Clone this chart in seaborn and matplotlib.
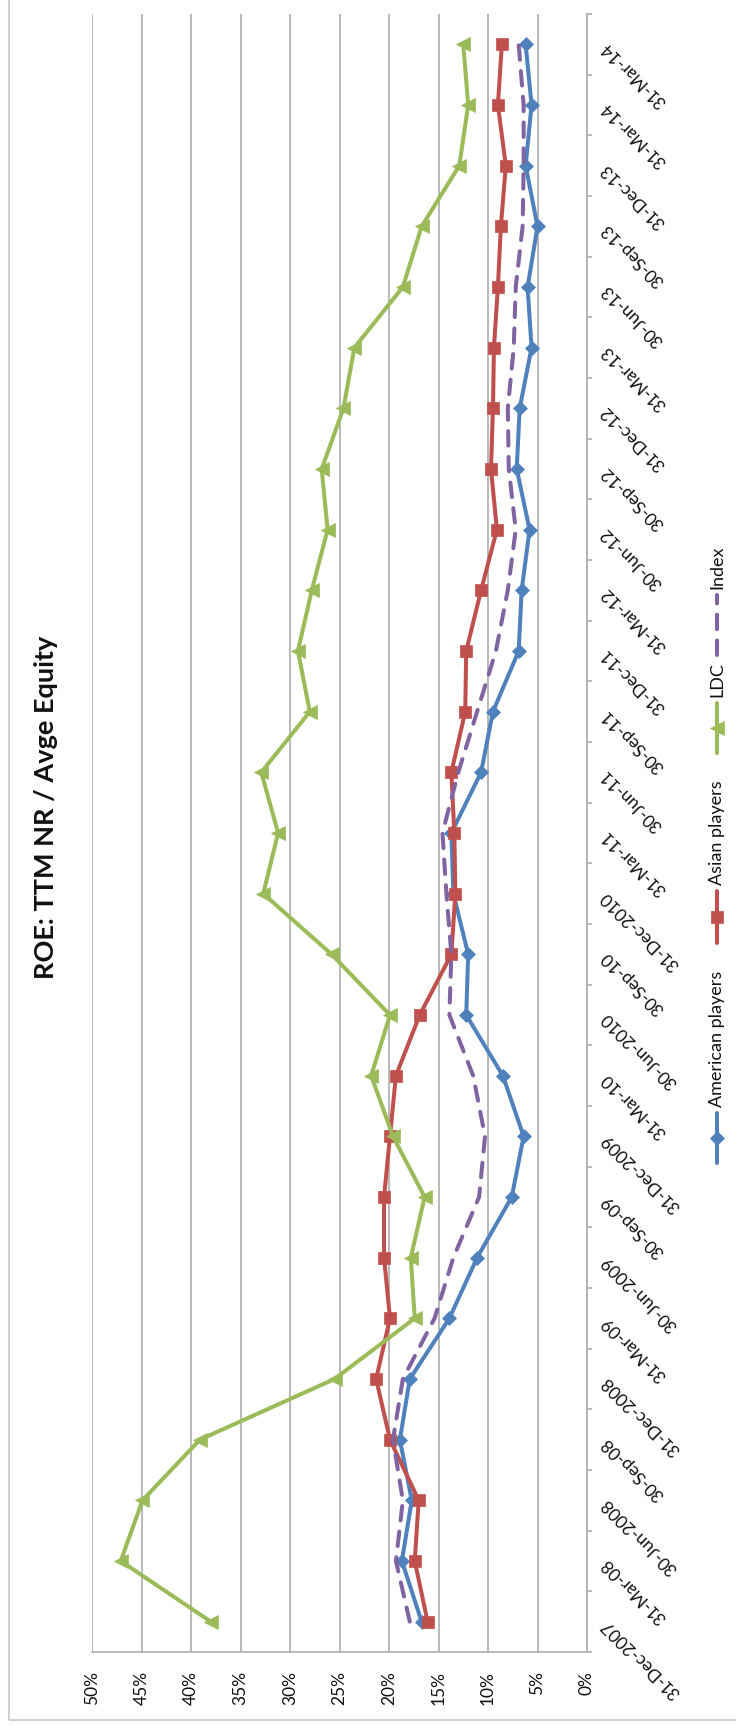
import numpy as np
import matplotlib
matplotlib.use("Agg")
import matplotlib.pyplot as plt
from matplotlib.lines import Line2D
from matplotlib.patches import Rectangle
import seaborn as sns

# Quarter-end dates (bottom to top along the category axis)
dates = ["31-Dec-2007", "31-Mar-08", "30-Jun-2008", "30-Sep-08", "31-Dec-2008",
         "31-Mar-09", "30-Jun-2009", "30-Sep-09", "31-Dec-2009", "31-Mar-10",
         "30-Jun-2010", "30-Sep-10", "31-Dec-2010", "31-Mar-11", "30-Jun-11",
         "30-Sep-11", "31-Dec-11", "31-Mar-12", "30-Jun-12", "30-Sep-12",
         "31-Dec-12", "31-Mar-13", "30-Jun-13", "30-Sep-13", "31-Dec-13",
         "31-Mar-14", "31-Mar-14"]

# ROE (TTM net result / average equity), in percent
american = [16.7, 18.7, 17.7, 18.9, 17.9, 13.9, 11.1, 7.6, 6.4, 8.5,
            12.2, 12.0, 13.5, 13.7, 10.7, 9.5, 6.9, 6.6, 5.8, 7.1,
            6.8, 5.6, 6.0, 5.0, 6.2, 5.6, 6.2]
asian = [16.1, 17.4, 17.0, 19.9, 21.3, 19.9, 20.5, 20.5, 19.9, 19.3,
         16.9, 13.7, 13.3, 13.4, 13.7, 12.3, 12.2, 10.7, 9.1, 9.7,
         9.5, 9.4, 9.0, 8.7, 8.2, 9.0, 8.6]
ldc = [38.0, 47.1, 44.9, 39.1, 25.5, 17.4, 17.8, 16.4, 19.6, 21.8,
       19.9, 25.8, 32.7, 31.2, 32.9, 28.0, 29.2, 27.8, 26.2, 26.8,
       24.6, 23.5, 18.6, 16.7, 12.9, 12.0, 12.5]
index = [17.9, 19.3, 18.6, 19.6, 18.6, 15.4, 13.5, 10.9, 10.3, 11.5,
         13.9, 13.7, 14.2, 14.6, 13.0, 11.1, 9.2, 8.0, 7.2, 7.9,
         8.0, 7.4, 7.2, 6.5, 6.4, 6.4, 6.9]

value_ticks = list(range(0, 55, 5))
value_labels = [f"{v}%" for v in value_ticks]

series_names = ["American players", "Asian players", "LDC", "Index"]
title = "ROE: TTM NR / Avge Equity"

BLUE, RED, GREEN, PURPLE = "#4F81BD", "#C0504D", "#9BBB59", "#8064A2"
GRID = "#ADADAD"

sns.set_style("white")
plt.rcParams["font.family"] = ["Lato", "DejaVu Sans"]

W, H = 736, 1726
fig = plt.figure(figsize=(W / 100, H / 100), dpi=100)


def fx(px):
    return px / W


def fy(py):
    return 1 - py / H


ax = fig.add_axes([fx(92), fy(1652), (587 - 92) / W, (1652 - 14) / H])

pos = np.arange(len(dates))
styles = [
    dict(data=american, color=BLUE, marker="D", ms=6.8),
    dict(data=asian, color=RED, marker="s", ms=9.0),
    dict(data=ldc, color=GREEN, marker="<", ms=10.5),
]
for st in styles:
    sns.lineplot(x=st["data"], y=pos, orient="y", sort=False, estimator=None,
                 color=st["color"], lw=2.9, marker=st["marker"], ms=st["ms"],
                 mec=st["color"], mfc=st["color"], mew=0.5, legend=False, ax=ax)
sns.lineplot(x=index, y=pos, orient="y", sort=False, estimator=None,
             color=PURPLE, lw=2.9, linestyle=(0, (3.6, 2.8)),
             dash_capstyle="round", legend=False, ax=ax)

# Value axis (horizontal, 50% on the left down to 0% on the right)
ax.set_xlim(50, 0)
ax.set_xticks(value_ticks)
ax.set_xticklabels(value_labels)
ax.grid(axis="x", color=GRID, lw=1.2)
ax.grid(axis="y", visible=False)
ax.set_axisbelow(True)
ax.tick_params(axis="x", which="major", length=3.6, width=1.2, color=GRID,
               pad=10, labelsize=12.5, labelrotation=90, labelcolor="#111111")

# Category axis on the right side with slanted date labels
ax.set_ylim(-0.5, len(dates) - 0.5)
ax.set_yticks(pos)
ax.set_yticklabels(dates)
ax.set_yticks(np.arange(-0.5, len(dates), 1.0), minor=True)
ax.yaxis.tick_right()
ax.tick_params(axis="y", which="major", length=0, pad=12, labelsize=12.5,
               labelcolor="#111111", left=False, right=True)
ax.tick_params(axis="y", which="minor", length=3.6, width=1.2, color=GRID,
               left=False, right=True)
for lab in ax.get_yticklabels():
    lab.set_rotation(135)
    lab.set_rotation_mode("anchor")
    lab.set_ha("right")
    lab.set_va("center")

ax.set_xlabel("")
ax.set_ylabel("")
for side in ("left", "top"):
    ax.spines[side].set_visible(False)
for side in ("right", "bottom"):
    ax.spines[side].set_color(GRID)
    ax.spines[side].set_linewidth(1.2)

# Title, reading upward along the left edge
fig.text(fx(46), fy(807), title, rotation=90, ha="center", va="center",
         fontsize=19.5, fontweight="bold", color="#111111")

# Legend stacked along the right edge
legend_specs = [
    (series_names[0], BLUE, "D", 6.8, "-", 1163, 1113),
    (series_names[1], RED, "s", 9.0, "-", 943, 891),
    (series_names[2], GREEN, "<", 10.5, "-", 753, 703),
    (series_names[3], PURPLE, None, 0, (0, (3.6, 2.8)), 655, 595),
]
lx = 717
for name, col, mk, ms, ls, y0, y1 in legend_specs:
    fig.add_artist(Line2D([fx(lx), fx(lx)], [fy(y0), fy(y1)], color=col, lw=2.9,
                          linestyle=ls, dash_capstyle="round",
                          transform=fig.transFigure))
    if mk is not None:
        fig.add_artist(Line2D([fx(lx)], [fy((y0 + y1) / 2)], color=col, marker=mk,
                              ms=ms, mec=col, mfc=col, mew=0.5, lw=0,
                              transform=fig.transFigure))
    fig.text(fx(lx), fy(y1 - 6), name, rotation=90, ha="center", va="bottom",
             fontsize=13, color="#111111")

# Outer chart border
fig.add_artist(Rectangle((fx(9), fy(1720)), 2.0, 2.0, transform=fig.transFigure,
                         fill=False, ec="#C8C8C8", lw=1.2))

fig.savefig("out.png", dpi=100)
